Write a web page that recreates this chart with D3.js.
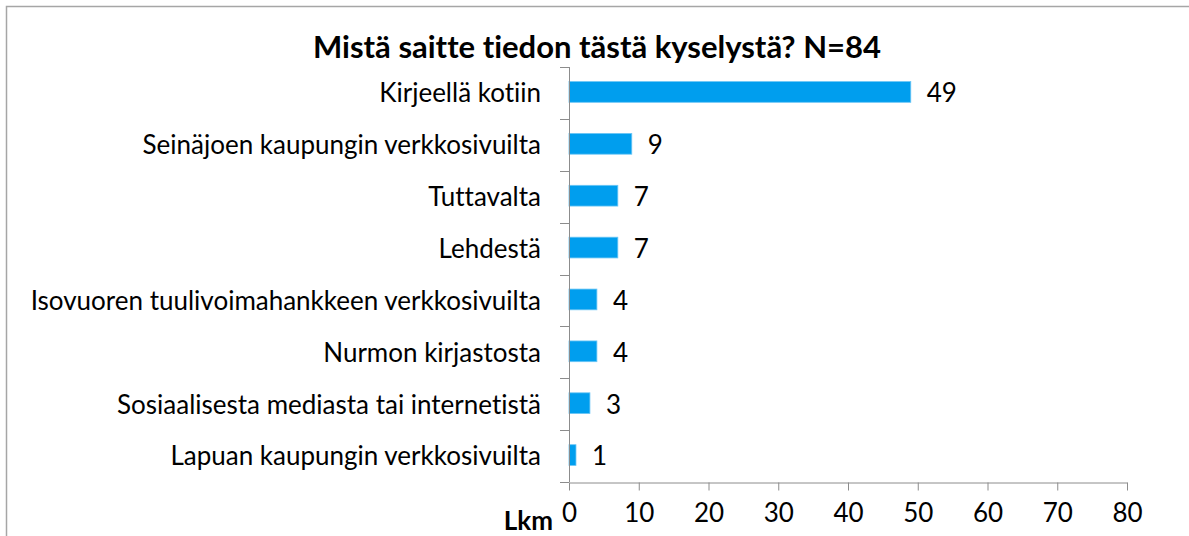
<!DOCTYPE html>
<html>
<head>
<meta charset="utf-8">
<script src="https://cdn.jsdelivr.net/npm/d3@7"></script>
<style>
	body { margin: 0; background: white; }
	text { font-family: Lato, "Noto Sans", sans-serif; fill: black; font-variant-ligatures: none; font-feature-settings: "liga" 0; }
</style>
</head>
<body>
<div id="root"></div>
<script>
//chart data
const categories = [
	"Kirjeellä kotiin",
	"Seinäjoen kaupungin verkkosivuilta",
	"Tuttavalta",
	"Lehdestä",
	"Isovuoren tuulivoimahankkeen verkkosivuilta",
	"Nurmon kirjastosta",
	"Sosiaalisesta mediasta tai internetistä",
	"Lapuan kaupungin verkkosivuilta"
];
const counts = [49, 9, 7, 7, 4, 4, 3, 1];
const xTicks = [0, 10, 20, 30, 40, 50, 60, 70, 80];
const title = "Mistä saitte tiedon tästä kyselystä? N=84";
const xLabel = "Lkm";

//dimensions of svg canvas
const width = 1189;
const height = 536;

const svg = d3.select("#root")
	.append("svg")
	.attr("width", width)
	.attr("height", height);

//outer chart border (right and bottom edges are cut off)
svg.append("rect")
	.attr("x", 6.5)
	.attr("y", 6.5)
	.attr("width", 1300)
	.attr("height", 600)
	.attr("fill", "white")
	.attr("stroke", "#a6a6a6")
	.attr("stroke-width", 1.5);

//scales
const xScale = d3.scaleLinear()
	.domain([0, 80])
	.range([569, 1127]);

const yScale = d3.scaleBand()
	.domain(categories)
	.range([67, 482])
	.paddingInner(0.6)
	.paddingOuter(0.3);

const axisColor = "#8c8c8c";
const labelSize = "26px";

//bars
svg.selectAll(".bar")
	.data(counts)
	.enter()
	.append("rect")
	.attr("class", "bar")
	.attr("x", xScale(0))
	.attr("y", (d, i) => yScale(categories[i]) - 1)
	.attr("width", d => xScale(d) - xScale(0))
	.attr("height", yScale.bandwidth())
	.attr("fill", "#009eee")
	.attr("stroke", "#6cc6f5")
	.attr("stroke-width", 0.8);

//value labels
svg.selectAll(".value")
	.data(counts)
	.enter()
	.append("text")
	.attr("class", "value")
	.attr("x", d => xScale(d) + 16)
	.attr("y", (d, i) => yScale(categories[i]) + yScale.bandwidth() / 2)
	.attr("dy", "0.36em")
	.style("font-size", labelSize)
	.text(d => d);

//category axis: line plus ticks on the band boundaries
const step = yScale.step();
const y0 = yScale.range()[0];
svg.append("line")
	.attr("x1", xScale(0) + 0.5)
	.attr("x2", xScale(0) + 0.5)
	.attr("y1", y0)
	.attr("y2", yScale.range()[1])
	.attr("stroke", axisColor);

svg.selectAll(".ctick")
	.data(d3.range(categories.length + 1))
	.enter()
	.append("line")
	.attr("class", "ctick")
	.attr("x1", xScale(0) - 9)
	.attr("x2", xScale(0))
	.attr("y1", i => Math.round(y0 + i * step) + 0.5)
	.attr("y2", i => Math.round(y0 + i * step) + 0.5)
	.attr("stroke", axisColor);

//category labels
svg.selectAll(".clabel")
	.data(categories)
	.enter()
	.append("text")
	.attr("class", "clabel")
	.attr("x", xScale(0) - 28)
	.attr("y", d => yScale(d) + yScale.bandwidth() / 2)
	.attr("dy", "0.36em")
	.attr("text-anchor", "end")
	.style("font-size", labelSize)
	.text(d => d);

//value axis
const xAxis = d3.axisBottom(xScale)
	.tickValues(xTicks)
	.tickSize(8)
	.tickPadding(13)
	.tickSizeOuter(0);

const gx = svg.append("g")
	.attr("transform", "translate(0," + 482.5 + ")")
	.call(xAxis);
gx.select(".domain").attr("stroke", axisColor);
gx.selectAll(".tick line").attr("stroke", axisColor);
gx.selectAll(".tick text")
	.style("font-family", "Lato, 'Noto Sans', sans-serif")
	.style("font-size", labelSize)
	.attr("fill", "black");

//axis title
svg.append("text")
	.attr("x", 553)
	.attr("y", 530)
	.attr("text-anchor", "end")
	.style("font-size", "26px")
	.style("font-weight", "bold")
	.text(xLabel);

//chart title
svg.append("text")
	.attr("x", 597)
	.attr("y", 58)
	.attr("text-anchor", "middle")
	.style("font-size", "31px")
	.style("font-weight", "bold")
	.text(title);
</script>
</body>
</html>
